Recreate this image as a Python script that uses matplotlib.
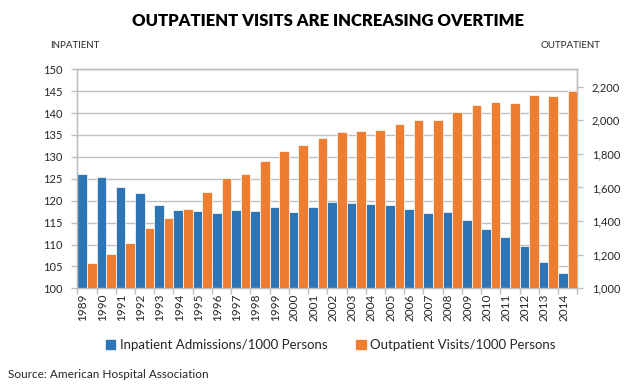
import numpy as np
import matplotlib
matplotlib.use("Agg")
import matplotlib.pyplot as plt
import matplotlib.transforms as mtransforms
from matplotlib.patches import Patch
from matplotlib.ticker import FuncFormatter

plt.rcParams['font.family'] = ['Lato', 'DejaVu Sans']

# --- data ---
years = list(range(1989, 2015))
inpatient = [126.0, 125.3, 123.1, 121.7, 119.1, 117.9, 117.6, 117.1, 117.9, 117.6,
             118.6, 117.4, 118.6, 119.8, 119.4, 119.2, 119.0, 118.0, 117.1, 117.5,
             115.7, 113.5, 111.7, 109.6, 106.1, 103.6]
outpatient = [1149, 1206, 1271, 1361, 1417, 1470, 1573, 1658, 1682, 1758,
              1817, 1853, 1893, 1930, 1934, 1944, 1978, 2000, 2000, 2051,
              2089, 2109, 2105, 2151, 2147, 2176]

blue = '#2E75B6'
orange = '#ED7D31'
grid_c = '#BFBFBF'
txt_c = '#262626'

fig = plt.figure(figsize=(6.4, 3.86), dpi=100)
ax = fig.add_axes([0.1208, 0.2531, 0.7812, 0.5674])
ax2 = ax.twinx()

x = np.arange(len(years))
ax.bar(x + 0.25, inpatient, width=0.5, color=blue, edgecolor='white', linewidth=0.5, zorder=3)
ax2.bar(x + 0.75, outpatient, width=0.5, color=orange, edgecolor='white', linewidth=0.5, zorder=3)

ax.set_xlim(0, len(years))
ax.set_ylim(100, 150)
ax2.set_ylim(1000, 2303)

ax.set_yticks(np.arange(100, 151, 5))
ax2.set_yticks(np.arange(1000, 2201, 200))
ax2.yaxis.set_major_formatter(FuncFormatter(lambda v, p: f"{int(v):,}"))

ax.yaxis.grid(True, color=grid_c, linewidth=1, zorder=0)
ax.set_axisbelow(True)

# category ticks between groups, labels at group centres
ax.set_xticks(np.arange(0, len(years) + 1))
ax.set_xticklabels([])
ax.set_xticks(x + 0.5, minor=True)
ax.set_xticklabels([str(y) for y in years], minor=True, rotation=90, fontsize=8.5, color=txt_c)
ax.tick_params(axis='x', which='minor', length=0, pad=4)
ax.tick_params(axis='x', which='major', length=4, color=grid_c, width=1)
offset = mtransforms.ScaledTranslation(-4 / 100, 0, fig.dpi_scale_trans)
for lab in ax.get_xticklabels(minor=True):
    lab.set_transform(lab.get_transform() + offset)

ax.tick_params(axis='y', length=4.5, color=grid_c, width=1, labelsize=8, labelcolor=txt_c, pad=6)
ax2.tick_params(axis='y', length=4.5, color=grid_c, width=1, labelsize=8, labelcolor=txt_c, pad=6)

for a in (ax, ax2):
    for s in a.spines.values():
        s.set_color(grid_c)
        s.set_linewidth(1)

fig.text(0.512, 0.946, "OUTPATIENT VISITS ARE INCREASING OVERTIME", ha='center', va='center',
         fontsize=12, fontweight='heavy', color='black')
fig.text(0.078, 0.881, "INPATIENT", ha='left', va='center', fontsize=7, color=txt_c)
fig.text(0.938, 0.881, "OUTPATIENT", ha='right', va='center', fontsize=7, color=txt_c)

handles = [Patch(color=blue, label='Inpatient Admissions/1000 Persons'),
           Patch(color=orange, label='Outpatient Visits/1000 Persons')]
fig.legend(handles=handles, loc='center', bbox_to_anchor=(0.517, 0.106), ncol=2, frameon=False,
           fontsize=9.5, handlelength=0.7, handleheight=0.7, handletextpad=0.35,
           columnspacing=2.2, labelcolor=txt_c)

fig.text(0.0125, 0.0285, "Source: American Hospital Association", ha='left', va='center',
         fontsize=8.5, color=txt_c)

fig.savefig("out.png", dpi=100)
